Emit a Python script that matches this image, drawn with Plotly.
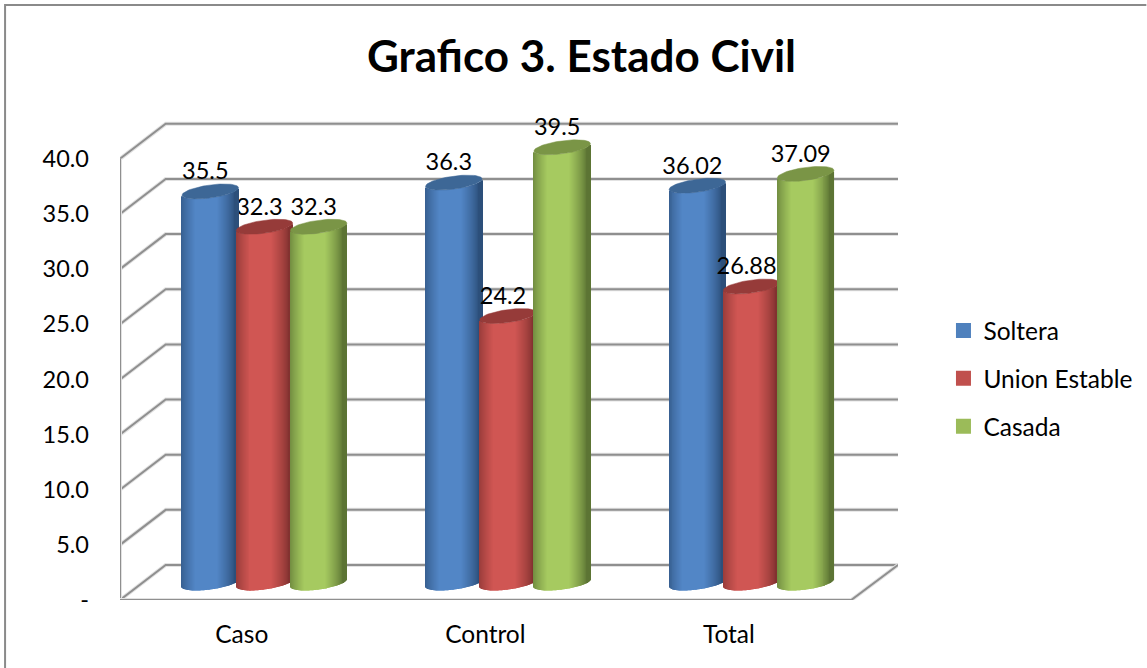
import numpy as np
import plotly.graph_objects as go

categories = ["Caso", "Control", "Total"]
soltera = [35.5, 36.3, 36.02]
union_estable = [32.3, 24.2, 26.88]
casada = [32.3, 39.5, 37.09]
value_labels = [["35.5", "36.3", "36.02"], ["32.3", "24.2", "26.88"], ["32.3", "39.5", "37.09"]]
series_names = ["Soltera", "Union Estable", "Casada"]
y_ticks = [0, 5, 10, 15, 20, 25, 30, 35, 40]
y_tick_text = ["-", "5.0", "10.0", "15.0", "20.0", "25.0", "30.0", "35.0", "40.0"]

series_values = [soltera, union_estable, casada]
legend_colors = ["#4f81bd", "#c0504d", "#9bbb59"]
edge_rgb = [(44, 79, 122), (130, 50, 48), (92, 116, 52)]
mid_rgb = [(82, 134, 198), (208, 86, 83), (166, 202, 96)]
top_colors = ["#3d6796", "#963b39", "#7a9546"]

# scales of the oblique projection
PX_X, PX_Y = 243.7, 11.03
L, B, R, T = 120, 600, 898.5, 100
WIDTH, HEIGHT = 1147, 668
XMIN, XMAX = -0.5, -0.5 + (R - L) / PX_X
YMIN, YMAX = 0, (B - T) / PX_Y
WALL_DX, WALL_DY = 45.7 / PX_X, 35 / PX_Y
FRONT_RIGHT = -0.5 + 731.7 / PX_X
BASE_DY = 17 / PX_Y
A, K, E = 28.3 / PX_X, 3.7 / PX_Y, 6.5 / PX_Y
SERIES_OFFSETS = [(-54.2 + 22.7) / PX_X, 22.7 / PX_X, (54.2 + 22.7) / PX_X]
N = 57
GRID = "#8f8f8f"
SHADOW = "#e2e2e2"
FONT = "Lato"
x_cat = np.arange(len(categories), dtype=float)

fig = go.Figure()


def add_line(xs, ys):
    for col, w in ((SHADOW, 4), (GRID, 2)):
        fig.add_trace(go.Scatter(x=xs, y=ys, mode="lines", line=dict(color=col, width=w),
                                 showlegend=False, hoverinfo="skip", cliponaxis=False, zorder=0))


for v in y_ticks:
    add_line([XMIN, XMIN + WALL_DX, XMAX], [v, v + WALL_DY, v + WALL_DY])
add_line([XMIN, XMIN], [0, y_ticks[-1]])
add_line([XMIN, FRONT_RIGHT, XMAX], [0, 0, WALL_DY])

edges = np.linspace(-1, 1, N + 1)
mids = (edges[:-1] + edges[1:]) / 2
slice_w = 2 * A / N
for s, vals in enumerate(series_values):
    vals = np.array(vals)
    for u in mids:
        t = max(0.0, min(1.0, (1 - abs(u + 0.12)) / 0.62)) ** 0.75
        rgb = [int(e + (m - e) * t) for e, m in zip(edge_rgb[s], mid_rgb[s])]
        base = BASE_DY + K * u - E * np.sqrt(1 - u * u)
        fig.add_trace(go.Bar(
            x=x_cat, y=vals, base=[base] * 3,
            width=slice_w * 1.15, offset=SERIES_OFFSETS[s] + A * u - slice_w * 0.575,
            marker=dict(color="rgb(%d,%d,%d)" % tuple(rgb), line=dict(width=0)),
            showlegend=False, hoverinfo="skip", zorder=s + 2))
    th = np.linspace(0, 2 * np.pi, 73)
    xs, ys = [], []
    for c, v in zip(x_cat, vals):
        xs += list(c + SERIES_OFFSETS[s] + A * np.cos(th)) + [None]
        ys += list(v + BASE_DY + K * np.cos(th) + E * np.sin(th)) + [None]
    fig.add_trace(go.Scatter(x=xs, y=ys, mode="lines", fill="toself", fillcolor=top_colors[s],
                             line=dict(color=top_colors[s], width=0.5),
                             showlegend=False, hoverinfo="skip", zorder=s + 2))
    # the first red label sits behind the blue cylinder in the reference
    behind = [0] if s == 1 else []
    front = [i for i in range(len(vals)) if i not in behind]
    for idx, z in ((behind, 1), (front, 6)):
        if not idx:
            continue
        fig.add_trace(go.Scatter(
            x=x_cat[idx] + SERIES_OFFSETS[s] - 5 / PX_X, y=vals[idx] + BASE_DY + 18 / PX_Y,
            mode="text", text=[value_labels[s][i] for i in idx], textposition="middle center",
            textfont=dict(family=FONT, size=23.5, color="#000000"),
            showlegend=False, hoverinfo="skip", cliponaxis=False, zorder=z))
    fig.add_trace(go.Scatter(
        x=[None], y=[None], mode="markers", name=series_names[s], legendgroup=series_names[s],
        marker=dict(symbol="square", size=15, color=legend_colors[s]), hoverinfo="skip"))

fig.update_layout(
    width=WIDTH, height=HEIGHT, autosize=False, barmode="overlay",
    paper_bgcolor="#ffffff", plot_bgcolor="rgba(0,0,0,0)",
    margin=dict(l=L, r=WIDTH - R, t=T, b=HEIGHT - B, autoexpand=False),
    title=dict(text="<b>Grafico 3. Estado Civil</b>", x=581.5 / WIDTH, xanchor="center",
               y=1 - 57 / HEIGHT, yanchor="middle",
               font=dict(family=FONT, size=44, color="#000000")),
    xaxis=dict(range=[XMIN, XMAX], tickmode="array", tickvals=x_cat.tolist(), ticktext=categories,
               showgrid=False, zeroline=False, showline=False, ticks="", ticklabelstandoff=17,
               tickfont=dict(family=FONT, size=24.5, color="#000000")),
    yaxis=dict(range=[YMIN, YMAX], tickmode="array", tickvals=y_ticks, ticktext=y_tick_text,
               showgrid=False, zeroline=False, showline=False, ticks="", ticklabelstandoff=30,
               tickfont=dict(family=FONT, size=23.5, color="#000000")),
    legend=dict(x=(944 - L) / (R - L), xanchor="left", y=1 - (308 - T) / (B - T), yanchor="top",
                font=dict(family=FONT, size=24.5, color="#000000"), tracegroupgap=13,
                bgcolor="rgba(0,0,0,0)", itemclick=False, itemdoubleclick=False),
    shapes=[dict(type="path", xref="paper", yref="paper", line=dict(color="#8a8a8a", width=2),
                 path="M %f %f L %f %f L %f %f" % (
                     (5 - L) / (R - L), (B - 668) / (B - T),
                     (5 - L) / (R - L), (B - 5) / (B - T),
                     (1147 - L) / (R - L), (B - 5) / (B - T)))],
)
fig.write_html("out.html", config=dict(displayModeBar=False),
               post_script="document.body.style.margin='0';document.documentElement.style.overflow='hidden';")
